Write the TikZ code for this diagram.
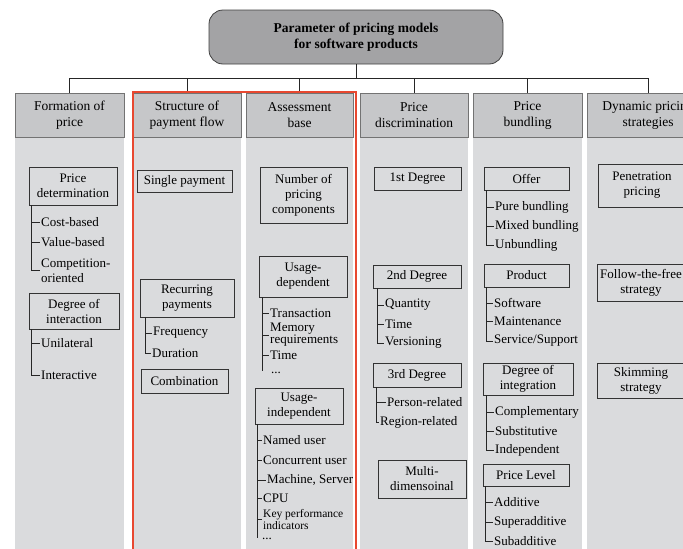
\documentclass[tikz,border=0pt]{standalone}
\usepackage{fontspec}
\setmainfont{Liberation Serif}
\usepackage{xcolor}
\usepackage{tikz}
\usetikzlibrary{positioning,calc}

\definecolor{titlegray}{RGB}{163,163,165}
\definecolor{hdrgray}{RGB}{198,199,201}
\definecolor{bodygray}{RGB}{218,219,221}
\definecolor{framered}{RGB}{232,72,48}

\tikzset{
    title/.style={draw=black!75, fill=titlegray, rounded corners=14pt, line width=0.8pt,
        align=center, font=\fontsize{13.5}{16}\selectfont\bfseries},
    hdr/.style={draw=black!55, fill=hdrgray, line width=0.8pt, align=center,
        minimum height=44, font=\fontsize{13.5}{16}\selectfont},
    colbody/.style={fill=bodygray},
    box/.style={draw=black!80, line width=0.7pt, align=center, inner sep=1pt,
        font=\fontsize{13}{15}\selectfont},
    leaf/.style={anchor=west, inner sep=1pt, align=left, font=\fontsize{13}{15}\selectfont},
    tree/.style={draw=black!85, line width=0.6pt},
    bus/.style={draw=black!85, line width=0.7pt},
    redframe/.style={draw=framered, line width=2pt}
}

\begin{document}
\begin{tikzpicture}[x=1pt, y=-1pt]
    \useasboundingbox (0,0) rectangle (683,549);

    % columns
    \foreach \n/\xa/\xb/\txt in {h1/15/124/{Formation of\\price}, h2/133/241/{Structure of\\payment flow},
        h3/246/353/{Assessment\\base}, h4/360/468/{Price\\discrimination},
        h5/473/582/{Price\\bundling}, h6/587/709/{Dynamic pricing\\strategies}} {
        \fill[colbody] (\xa,137) rectangle (\xb,560);
        \node[hdr, minimum width={\xb-\xa}] (\n) at ({(\xa+\xb)/2},115) {\txt};
    }

    \node[title, minimum width=294, minimum height=54] (title) at (356,37)
        {Parameter of pricing models\\for software products};

    % connectors to the headers
    \coordinate (bus) at (0,78);
    \draw[bus] (title.south) -- (title.south |- bus);
    \draw[bus] (h1.north |- bus) -- (h6.north |- bus);
    \foreach \n in {h1,h2,h3,h4,h5,h6}
        \draw[bus] (\n.north) -- (\n.north |- bus);

    % Formation of price
    \node[box, minimum width=88, minimum height=38] (pdet) at (73,186) {Price\\determination};
    \node[leaf] (cost) at (40,222) {Cost-based};
    \node[leaf] (value) at (40,242) {Value-based};
    \node[leaf] (comp) at (40,270.5) {Competition-\\oriented};
    \foreach \m in {cost,value,comp}
        \draw[tree] ([xshift=3]pdet.south west) |- (\m.west);

    \node[box, minimum width=90, minimum height=36] (doi) at (74,311) {Degree of\\interaction};
    \node[leaf] (unil) at (40,343) {Unilateral};
    \node[leaf] (inter) at (40,375) {Interactive};
    \foreach \m in {unil,inter}
        \draw[tree] ([xshift=3]doi.south west) |- (\m.west);

    % Structure of payment flow
    \node[box, minimum width=95, minimum height=22] (single) at (184.5,181) {Single payment};
    \node[box, minimum width=94, minimum height=38] (recur) at (187,298) {Recurring\\payments};
    \node[leaf] (freq) at (152,333) {Frequency};
    \node[leaf] (dur) at (151,353) {Duration};
    \foreach \m in {freq,dur}
        \draw[tree] ([xshift=6]recur.south west) |- (\m.west);
    \node[box, minimum width=87, minimum height=24] (comb) at (184.5,381) {Combination};

    % Assessment base
    \node[box, minimum width=87, minimum height=56] (npc) at (303.5,195) {Number of\\pricing\\components};
    \node[box, minimum width=88, minimum height=41] (udep) at (303,276.5) {Usage-\\dependent};
    \node[leaf] (trans) at (269,313) {Transaction};
    \node[leaf, font=\fontsize{13}{12}\selectfont] (mem) at (269,335) {Memory\\requirements};
    \node[leaf] (time1) at (269,355) {Time};
    \node[leaf] (dots1) at (270,373) {...};
    \foreach \m in {trans,mem,time1}
        \draw[tree] ([xshift=4]udep.south west) |- (\m.west);
    \draw[tree] ([xshift=4]udep.south west) -- ([xshift=4]udep.south west |- dots1.north);

    \node[box, minimum width=88, minimum height=36] (uind) at (299,406) {Usage-\\independent};
    \node[leaf] (named) at (262,440) {Named user};
    \node[leaf] (conc) at (262,460) {Concurrent user};
    \node[leaf] (mach) at (266,480) {Machine, Server};
    \node[leaf] (cpu) at (262,498) {CPU};
    \node[leaf, font=\fontsize{11.5}{10}\selectfont] (kpi) at (262,519.5) {Key performance\\indicators};
    \node[leaf, inner sep=0pt] (dots2) at (262,539) {...};
    \foreach \m in {named,conc,mach,cpu,kpi}
        \draw[tree] ([xshift=3]uind.south west) |- (\m.west);
    \draw[tree] ([xshift=3]uind.south west) -- ([xshift=3]uind.south west |- dots2.north);

    % Price discrimination
    \node[box, minimum width=87, minimum height=23] (deg1) at (417.5,178.5) {1st Degree};
    \node[box, minimum width=88, minimum height=23] (deg2) at (417,276.5) {2nd Degree};
    \node[leaf] (quant) at (384,305) {Quantity};
    \node[leaf] (time2) at (384,324) {Time};
    \node[leaf] (vers) at (384,343) {Versioning};
    \foreach \m in {quant,time2,vers}
        \draw[tree] ([xshift=5]deg2.south west) |- (\m.west);
    \node[box, minimum width=88, minimum height=24] (deg3) at (417,375) {3rd Degree};
    \node[leaf] (person) at (386,402) {Person-related};
    \node[leaf] (region) at (379,422) {Region-related};
    \foreach \m in {person,region}
        \draw[tree] ([xshift=4]deg3.south west) |- (\m.west);
    \node[box, minimum width=88, minimum height=38] (multi) at (422,479) {Multi-\\dimensoinal};

    % Price bundling
    \node[box, minimum width=85, minimum height=23] (offer) at (526.5,178.5) {Offer};
    \node[leaf] (pure) at (494,207) {Pure bundling};
    \node[leaf] (mixed) at (494,226) {Mixed bundling};
    \node[leaf] (unb) at (494,245) {Unbundling};
    \foreach \m in {pure,mixed,unb}
        \draw[tree] ([xshift=3]offer.south west) |- (\m.west);

    \node[box, minimum width=85, minimum height=23] (product) at (526.5,275.5) {Product};
    \node[leaf] (soft) at (493,303) {Software};
    \node[leaf] (maint) at (493,321) {Maintenance};
    \node[leaf] (serv) at (493,341) {Service/Support};
    \foreach \m in {soft,maint,serv}
        \draw[tree] ([xshift=3]product.south west) |- (\m.west);

    \node[box, minimum width=90, minimum height=32] (integ) at (528,379) {Degree of\\integration};
    \node[leaf] (compl) at (494,412) {Complementary};
    \node[leaf] (subst) at (494,431) {Substitutive};
    \node[leaf] (indep) at (494,450) {Independent};
    \foreach \m in {compl,subst,indep}
        \draw[tree] ([xshift=4]integ.south west) |- (\m.west);

    \node[box, minimum width=86, minimum height=22] (plevel) at (526,475) {Price Level};
    \node[leaf] (add) at (493,502) {Additive};
    \node[leaf] (super) at (493,522) {Superadditive};
    \node[leaf] (sub) at (493,541) {Subadditive};
    \foreach \m in {add,super,sub}
        \draw[tree] ([xshift=3]plevel.south west) |- (\m.west);

    % Dynamic pricing strategies
    \node[box, minimum width=88, minimum height=43] (penet) at (642,185.5) {Penetration\\pricing};
    \node[box, minimum width=88, minimum height=37] (follow) at (641,282.5) {Follow-the-free\\strategy};
    \node[box, minimum width=88, minimum height=35] (skim) at (641,380.5) {Skimming\\strategy};

    % highlighted parameters
    \draw[redframe] (132.5,92) rectangle (355.5,560);
\end{tikzpicture}
\end{document}
